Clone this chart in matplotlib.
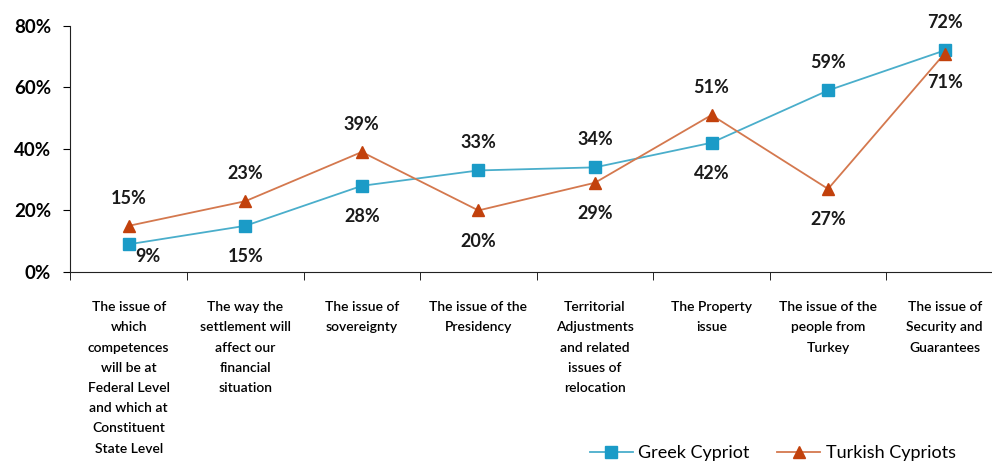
import numpy as np
import matplotlib.pyplot as plt

# data
issues = [
    'The issue of\nwhich\ncompetences\nwill be at\nFederal Level\nand which at\nConstituent\nState Level',
    'The way the\nsettlement will\naffect our\nfinancial\nsituation',
    'The issue of\nsovereignty',
    'The issue of the\nPresidency',
    'Territorial\nAdjustments\nand related\nissues of\nrelocation',
    'The Property\nissue',
    'The issue of the\npeople from\nTurkey',
    'The issue of\nSecurity and\nGuarantees',
]
greek = [9, 15, 28, 33, 34, 42, 59, 72]
turkish = [15, 23, 39, 20, 29, 51, 27, 71]

# label offsets in points (dx, dy)
greek_off = [(14, -9), (0, -22), (0, -22), (0, 20), (0, 20), (0, -22), (0, 20), (0, 20)]
turkish_off = [(0, 20), (0, 20), (0, 20), (0, -22), (0, -22), (0, 20), (0, -22), (0, -21)]

plt.rcParams['font.family'] = ['Lato', 'DejaVu Sans']

fig = plt.figure(figsize=(9.92, 4.61), dpi=100)
ax = fig.add_axes([0.071, 0.41, 0.94, 0.534])

x = np.arange(len(issues))
g_col, g_line = '#1b9bc7', '#4aaecb'
t_col, t_line = '#c2410c', '#d4784e'

ax.plot(x, greek, color=g_line, lw=1.3, marker='s', ms=8,
        mfc=g_col, mec=g_col, label='Greek Cypriot', zorder=3)
ax.plot(x, turkish, color=t_line, lw=1.3, marker='^', ms=8,
        mfc=t_col, mec=t_col, label='Turkish Cypriots', zorder=3)

for xi, v, off in zip(x, greek, greek_off):
    ax.annotate(f'{v}%', (xi, v), xytext=off, textcoords='offset points',
                ha='center', va='center', fontsize=13, fontweight='bold', color='#1a1a1a')
for xi, v, off in zip(x, turkish, turkish_off):
    ax.annotate(f'{v}%', (xi, v), xytext=off, textcoords='offset points',
                ha='center', va='center', fontsize=13, fontweight='bold', color='#1a1a1a')

ax.set_xlim(-0.5, len(issues) - 0.5)
ax.set_ylim(0, 80)
ax.set_yticks([0, 20, 40, 60, 80])
ax.set_yticklabels([f'{t}%' for t in [0, 20, 40, 60, 80]],
                   fontsize=13.5, fontweight='bold')

ax.set_xticks(x)
ax.set_xticklabels(issues, fontsize=10, fontweight='semibold', linespacing=1.82,
                   va='top', ha='center')
ax.tick_params(axis='x', which='major', length=0, pad=21)
ax.set_xticks(np.arange(len(issues) + 1) - 0.5, minor=True)
ax.tick_params(axis='x', which='minor', length=6, direction='out')
ax.tick_params(axis='y', length=5, direction='out', pad=9)

for s in ['top', 'right']:
    ax.spines[s].set_visible(False)
ax.spines['left'].set_color('#222222')
ax.spines['bottom'].set_color('#222222')

fig.legend(loc='lower left', bbox_to_anchor=(0.578, -0.035), ncol=2,
           frameon=False, fontsize=13, handlelength=2.4, columnspacing=1.5,
           handletextpad=0.3)

fig.savefig('out.png', dpi=100)
